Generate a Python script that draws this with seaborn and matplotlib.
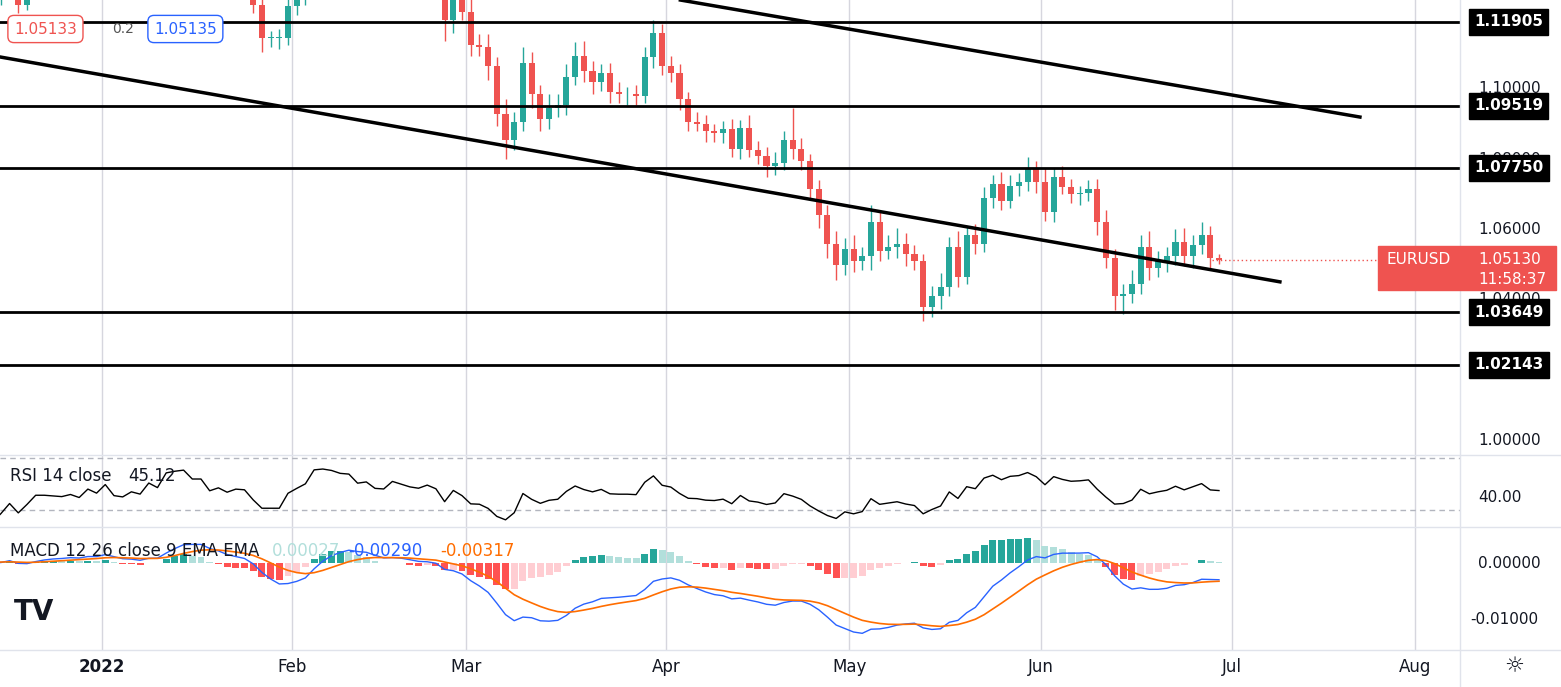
import numpy as np, pandas as pd, matplotlib
matplotlib.use("Agg")
import matplotlib.pyplot as plt
import seaborn as sns

closes = [1.1285,1.1265,1.1340,1.1295,1.1315,1.1285,1.1260,1.1290,1.1330,1.1240,
 1.1280,1.1330,1.1330,1.1325,1.1320,1.1330,1.1310,1.1350,1.1325,1.1370,
 1.1295,1.1285,1.1312,1.1296,1.1360,1.1330,1.1440,1.1455,1.1465,1.1410,1.1410,1.1325,1.1345,1.1310,1.1330,1.1325,1.1240,1.1145,1.1145,1.1145,1.1235,
 1.1270,1.1305,1.1440,1.1450,1.1440,1.1420,1.1415,1.1350,1.1360,1.1310,1.1305,1.1360,1.1340,1.1320,1.1310,1.1330,1.1305,1.1195,1.1270,1.1220,
 1.1125,1.1120,1.1065,1.0930,1.0855,1.0905,1.1075,1.0985,1.0915,1.0945,1.0955,1.1035,1.1095,1.1050,1.1020,1.1045,1.0990,1.0985,1.0985,1.0980,1.1090,1.1160,1.1065,
 1.1045,1.0970,1.0905,1.0900,1.0880,1.0875,1.0885,1.0830,1.0890,1.0825,1.0810,1.0780,1.0790,1.0855,1.0830,1.0795,1.0715,1.0640,1.0560,1.0500,1.0545,
 1.0510,1.0525,1.0620,1.0540,1.0550,1.0560,1.0530,1.0510,1.0380,1.0410,1.0435,1.0550,1.0465,1.0585,1.0560,1.0690,1.0730,1.0680,1.0725,1.0735,1.0775,1.0735,
 1.0650,1.0750,1.0720,1.0700,1.0705,1.0715,1.0620,1.0520,1.0410,1.0415,1.0445,1.0550,1.0490,1.0510,1.0525,1.0565,1.0525,1.0555,1.0585,1.0520,1.0513]
wick_hi = [20,25,15,30,20,25,15,20,30,25,
 20,15,25,10,12,18,30,20,15,25, 30,22,40,28,15,30,20,25,18,35,22,40,25,30,22,28,35,40,20,25,30,
 35,30,25,40,20,28,30,22,35,25,40,30,20,28,22,35,30,60,25,30,
 40,30,35,25,40,30,45,30,25,40,30,35,38,40,30,25,28,30,20,25,30,35,25,
 30,25,20,30,25,20,25,30,22,35,28,25,30,25,90,30,20,25,30,35,30,
 40,25,50,30,35,45,30,25,20,30,40,30,45,25,30,30,25,35,30,25,30,20,
 40,25,30,25,20,25,30,35,25,30,40,35,45,30,25,35,40,30,35,25,10]
wick_lo = [25,20,30,15,20,25,30,20,15,25,
 15,20,10,15,18,12,20,15,25,10, 20,25,30,15,20,25,15,20,30,25,20,35,20,25,30,20,25,40,25,30,20,
 25,30,20,30,25,20,25,30,25,20,30,25,20,30,25,30,25,60,35,25,
 30,25,40,35,55,30,25,40,35,30,25,30,25,30,35,25,30,25,30,25,20,30,25,
 25,30,25,20,30,25,30,25,30,20,25,30,25,20,30,25,30,35,40,45,30,
 30,25,40,30,25,30,35,25,40,30,35,25,30,20,30,25,30,25,20,30,25,30,
 25,30,20,25,30,25,35,30,40,50,25,30,35,25,30,25,30,35,25,30,10]
month_labels = ["2022","Feb","Mar","Apr","May","Jun","Jul","Aug"]
month_starts = ["2022-01-01","2022-02-01","2022-03-01","2022-04-01","2022-05-01","2022-06-01","2022-07-01","2022-08-01"]
levels = [1.11905,1.09519,1.07750,1.03649,1.02143]
plain_ticks = [1.10000,1.08000,1.06000,1.04000,1.00000]
trend1 = ([-13.1,134.0],[1.1091,1.0451])
trend2 = ([65.1,143.2],[1.1253,1.0920])

W,H = 1561,687
dates = pd.bdate_range("2021-12-06", periods=len(closes))
idx = np.array([np.busday_count("2022-01-03", d.date()) for d in dates], float)
c = np.array(closes); o = np.r_[c[0]-0.0030, c[:-1]]
hi = np.maximum(o,c)+np.array(wick_hi)*1e-4; lo = np.minimum(o,c)-np.array(wick_lo)*1e-4

s = pd.Series(c)
d = s.diff(); up = d.clip(lower=0).ewm(alpha=1/14,adjust=False).mean(); dn = (-d.clip(upper=0)).ewm(alpha=1/14,adjust=False).mean()
rsi = 100-100/(1+up/dn)
macd = s.ewm(span=12,adjust=False).mean()-s.ewm(span=26,adjust=False).mean()
sig = macd.ewm(span=9,adjust=False).mean(); hist = macd-sig

fig = plt.figure(figsize=(W/100,H/100),dpi=100)
def rect(x0,y0,x1,y1): return [x0/W,1-y1/H,(x1-x0)/W,(y1-y0)/H]
XL = (-13.1,154.7)
mt = [np.busday_count("2022-01-03", m) - 0.5 for m in month_starts]
mt[0] = -1.4
ax = fig.add_axes(rect(0,0,1460,455)); ar = fig.add_axes(rect(0,455,1460,527)); am = fig.add_axes(rect(0,527,1460,650))
for a in (ax,ar,am):
    a.set_xticks([]); a.set_yticks([])
    for sp in a.spines.values(): sp.set_visible(False)
    for t in mt: a.axvline(t,color="#d6d6de",lw=1,zorder=0)
ax.set_ylim(0.99582,1.12531); ar.set_ylim(16.9,72.3); am.set_ylim(-0.01526,0.00632)
col = np.where(c>=o,"#26a69a","#ef5350")
ax.vlines(idx,lo,hi,colors=col,lw=1,zorder=2)
ax.bar(idx,np.maximum(np.abs(c-o),0.0002),bottom=np.minimum(o,c),width=0.7,color=col,zorder=3)
for L in levels: ax.axhline(L,color="black",lw=2,zorder=4)
ax.plot(*trend1,color="black",lw=2.5,zorder=4); ax.plot(*trend2,color="black",lw=2.5,zorder=4)
ax.axhline(c[-1],xmin=0.83,color="#ef5350",lw=1,ls=(0,(1,2)))
for lv in (70,30): ar.axhline(lv,color="#b2b5be",lw=1,ls=(0,(4,3)))
sns.lineplot(x=idx,y=rsi.values,ax=ar,color="black",lw=1)
hc=[]
for i,h in enumerate(hist):
    p = hist[i-1] if i else h
    hc.append(("#26a69a" if h>=p else "#b2dfdb") if h>=0 else ("#ffcdd2" if h>p else "#ff5252"))
am.bar(idx,hist.values,width=0.8,color=hc)
sns.lineplot(x=idx,y=macd.values,ax=am,color="#2962ff",lw=1)
sns.lineplot(x=idx,y=sig.values,ax=am,color="#ff6d00",lw=1.2)
for a in (ax,ar,am): a.set_xlim(*XL); a.set_xlabel(""); a.set_ylabel("")
for y in (455,527,650): fig.add_artist(plt.Line2D([0,1],[1-y/H]*2,color="#e0e3eb",lw=1))
fig.add_artist(plt.Line2D([1460/W]*2,[0,1],color="#e0e3eb",lw=1))
def ft(x,y,s,**k): return fig.text(x/W,1-y/H,s,va="center",**k)
py = lambda p: 22+(1.11905-p)*3513.6
for p in plain_ticks: ft(1478,py(p),f"{p:.5f}",fontsize=11,color="#131722",zorder=1)
for L in levels:
    ft(1474,py(L),f"{L:.5f}",fontsize=11,color="white",weight="bold",zorder=5,bbox=dict(boxstyle="square,pad=0.35",fc="black",ec="black"))
fig.patches.append(plt.Rectangle((1378/W,1-(290/H)),(1556-1378)/W,44/H,transform=fig.transFigure,color="#ef5350",zorder=4))
ft(1386,259,"EURUSD",fontsize=11,color="white",zorder=5); ft(1478,259,"1.05130",fontsize=11,color="white",zorder=5)
ft(1478,280,"11:58:37",fontsize=11,color="white",zorder=5)
ft(1478,497,"40.00",fontsize=11,color="#131722"); ft(1478,563,"0.00000",fontsize=11,color="#131722"); ft(1470,620,"-0.01000",fontsize=11,color="#131722")
ft(10,476,"RSI 14 close",fontsize=12,color="#131722"); ft(128,476,"45.12",fontsize=12,color="#131722")
ft(10,551,"MACD 12 26 close 9 EMA EMA",fontsize=12,color="#131722")
ft(272,551,"0.00027",fontsize=12,color="#b2dfdb"); ft(348,551,"-0.00290",fontsize=12,color="#2962ff"); ft(440,551,"-0.00317",fontsize=12,color="#ff6d00")
ft(14,29,"1.05133",fontsize=11,color="#ef5350",bbox=dict(boxstyle="round,pad=0.4",fc="white",ec="#ef5350"))
ft(112,29,"0.2",fontsize=10,color="#555")
ft(154,29,"1.05135",fontsize=11,color="#2962ff",bbox=dict(boxstyle="round,pad=0.4",fc="white",ec="#2962ff"))
ft(14,612,"TV",fontsize=20,color="#131722",weight="bold")
xpx = lambda t: (t-XL[0])/(XL[1]-XL[0])*1460
for t,l in zip(mt,month_labels):
    fig.text(xpx(t)/W,1-667/H,l,ha="center",va="center",fontsize=12,color="#131722",weight="bold" if l=="2022" else "normal")
ft(1504,666,"☼",fontsize=16,color="#131722")
fig.savefig("out.png",dpi=100,facecolor="white")
